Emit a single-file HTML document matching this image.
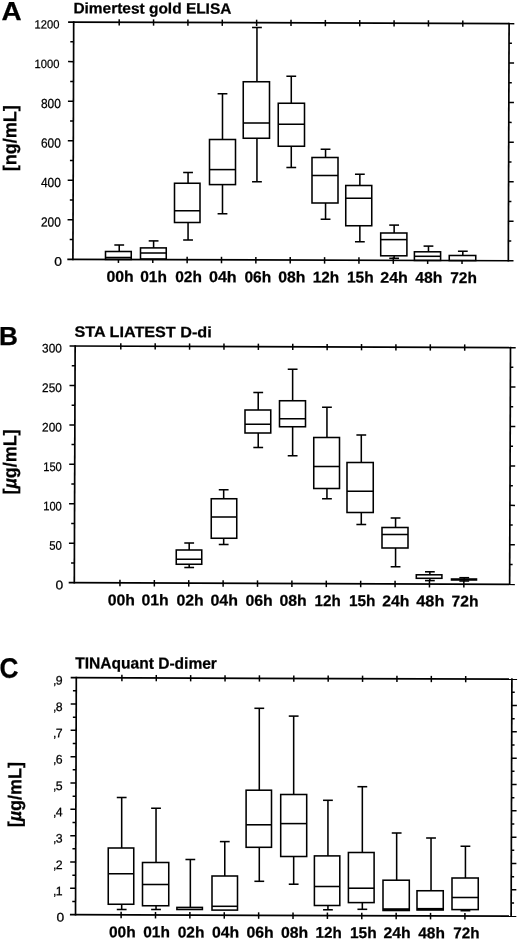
<!DOCTYPE html>
<html><head><meta charset="utf-8"><title>D-dimer box plots</title>
<style>
html,body{margin:0;padding:0;background:#fff;}
svg{display:block;filter:blur(0.35px);}
svg text{font-family:"Liberation Sans",sans-serif;fill:#000;stroke:#000;stroke-width:0.25px;}
svg line,svg rect{stroke:#000;}
</style></head><body>
<svg width="520" height="941" viewBox="0 0 520 941">
<rect x="0" y="0" width="520" height="941" fill="#fff" style="stroke:none"/>
<text x="61.90" y="265.85" font-size="12.4" text-anchor="end" textLength="7.70" lengthAdjust="spacingAndGlyphs" transform="rotate(0.189 61.90 265.85)">0</text>
<line x1="69.68" y1="239.52" x2="72.98" y2="239.53" stroke-width="1.5"/>
<line x1="508.38" y1="240.97" x2="511.28" y2="240.98" stroke-width="1.5"/>
<line x1="67.55" y1="219.75" x2="73.05" y2="219.77" stroke-width="1.5"/>
<line x1="508.45" y1="221.20" x2="513.55" y2="221.22" stroke-width="1.5"/>
<text x="60.80" y="226.62" font-size="13.2" text-anchor="end" textLength="19.90" lengthAdjust="spacingAndGlyphs" transform="rotate(0.189 60.80 226.62)">200</text>
<line x1="69.81" y1="199.99" x2="73.11" y2="200.00" stroke-width="1.5"/>
<line x1="508.51" y1="201.44" x2="511.41" y2="201.45" stroke-width="1.5"/>
<line x1="67.68" y1="180.22" x2="73.18" y2="180.23" stroke-width="1.5"/>
<line x1="508.58" y1="181.67" x2="513.68" y2="181.69" stroke-width="1.5"/>
<text x="60.80" y="187.08" font-size="13.2" text-anchor="end" textLength="19.90" lengthAdjust="spacingAndGlyphs" transform="rotate(0.189 60.80 187.08)">400</text>
<line x1="69.94" y1="160.46" x2="73.24" y2="160.47" stroke-width="1.5"/>
<line x1="508.64" y1="161.90" x2="511.54" y2="161.91" stroke-width="1.5"/>
<line x1="67.81" y1="140.68" x2="73.31" y2="140.70" stroke-width="1.5"/>
<line x1="508.71" y1="142.14" x2="513.81" y2="142.15" stroke-width="1.5"/>
<text x="60.80" y="147.55" font-size="13.2" text-anchor="end" textLength="19.90" lengthAdjust="spacingAndGlyphs" transform="rotate(0.189 60.80 147.55)">600</text>
<line x1="70.07" y1="120.92" x2="73.37" y2="120.93" stroke-width="1.5"/>
<line x1="508.77" y1="122.37" x2="511.67" y2="122.38" stroke-width="1.5"/>
<line x1="67.94" y1="101.15" x2="73.44" y2="101.17" stroke-width="1.5"/>
<line x1="508.84" y1="102.60" x2="513.94" y2="102.62" stroke-width="1.5"/>
<text x="60.80" y="108.02" font-size="13.2" text-anchor="end" textLength="19.90" lengthAdjust="spacingAndGlyphs" transform="rotate(0.189 60.80 108.02)">800</text>
<line x1="70.20" y1="81.39" x2="73.50" y2="81.40" stroke-width="1.5"/>
<line x1="508.90" y1="82.84" x2="511.80" y2="82.85" stroke-width="1.5"/>
<line x1="68.07" y1="61.62" x2="73.57" y2="61.63" stroke-width="1.5"/>
<line x1="508.97" y1="63.07" x2="514.07" y2="63.09" stroke-width="1.5"/>
<text x="59.40" y="68.08" font-size="12" text-anchor="end" textLength="24.80" lengthAdjust="spacingAndGlyphs" transform="rotate(0.189 59.40 68.08)">1000</text>
<line x1="70.33" y1="41.86" x2="73.63" y2="41.87" stroke-width="1.5"/>
<line x1="509.03" y1="43.30" x2="511.93" y2="43.31" stroke-width="1.5"/>
<text x="59.40" y="28.55" font-size="12" text-anchor="end" textLength="24.80" lengthAdjust="spacingAndGlyphs" transform="rotate(0.189 59.40 28.55)">1200</text>
<line x1="119.20" y1="19.25" x2="119.20" y2="25.55" stroke-width="1.5"/>
<line x1="118.42" y1="256.45" x2="118.42" y2="262.95" stroke-width="1.5"/>
<text x="106.50" y="281.75" font-size="15.5" font-weight="bold" textLength="27.20" lengthAdjust="spacingAndGlyphs" transform="rotate(0.189 106.50 281.75)">00h</text>
<line x1="153.56" y1="19.36" x2="153.56" y2="25.66" stroke-width="1.5"/>
<line x1="152.78" y1="256.56" x2="152.78" y2="263.06" stroke-width="1.5"/>
<text x="140.25" y="281.86" font-size="15.5" font-weight="bold" textLength="26.70" lengthAdjust="spacingAndGlyphs" transform="rotate(0.189 140.25 281.86)">01h</text>
<line x1="187.92" y1="19.48" x2="187.92" y2="25.78" stroke-width="1.5"/>
<line x1="187.14" y1="256.68" x2="187.14" y2="263.18" stroke-width="1.5"/>
<text x="175.25" y="281.98" font-size="15.5" font-weight="bold" textLength="26.70" lengthAdjust="spacingAndGlyphs" transform="rotate(0.189 175.25 281.98)">02h</text>
<line x1="222.28" y1="19.59" x2="222.28" y2="25.89" stroke-width="1.5"/>
<line x1="221.50" y1="256.79" x2="221.50" y2="263.29" stroke-width="1.5"/>
<text x="209.00" y="282.09" font-size="15.5" font-weight="bold" textLength="27.70" lengthAdjust="spacingAndGlyphs" transform="rotate(0.189 209.00 282.09)">04h</text>
<line x1="256.64" y1="19.70" x2="256.64" y2="26.00" stroke-width="1.5"/>
<line x1="255.86" y1="256.90" x2="255.86" y2="263.40" stroke-width="1.5"/>
<text x="244.50" y="282.20" font-size="15.5" font-weight="bold" textLength="26.70" lengthAdjust="spacingAndGlyphs" transform="rotate(0.189 244.50 282.20)">06h</text>
<line x1="291.00" y1="19.82" x2="291.00" y2="26.12" stroke-width="1.5"/>
<line x1="290.22" y1="257.02" x2="290.22" y2="263.52" stroke-width="1.5"/>
<text x="278.25" y="282.32" font-size="15.5" font-weight="bold" textLength="27.20" lengthAdjust="spacingAndGlyphs" transform="rotate(0.189 278.25 282.32)">08h</text>
<line x1="325.36" y1="19.93" x2="325.36" y2="26.23" stroke-width="1.5"/>
<line x1="324.58" y1="257.13" x2="324.58" y2="263.63" stroke-width="1.5"/>
<text x="312.75" y="282.43" font-size="15.5" font-weight="bold" textLength="26.45" lengthAdjust="spacingAndGlyphs" transform="rotate(0.189 312.75 282.43)">12h</text>
<line x1="359.72" y1="20.04" x2="359.72" y2="26.34" stroke-width="1.5"/>
<line x1="358.94" y1="257.24" x2="358.94" y2="263.74" stroke-width="1.5"/>
<text x="347.00" y="282.54" font-size="15.5" font-weight="bold" textLength="26.70" lengthAdjust="spacingAndGlyphs" transform="rotate(0.189 347.00 282.54)">15h</text>
<line x1="394.08" y1="20.16" x2="394.08" y2="26.46" stroke-width="1.5"/>
<line x1="393.30" y1="257.36" x2="393.30" y2="263.86" stroke-width="1.5"/>
<text x="380.25" y="282.66" font-size="15.5" font-weight="bold" textLength="27.70" lengthAdjust="spacingAndGlyphs" transform="rotate(0.189 380.25 282.66)">24h</text>
<line x1="428.44" y1="20.27" x2="428.44" y2="26.57" stroke-width="1.5"/>
<line x1="427.66" y1="257.47" x2="427.66" y2="263.97" stroke-width="1.5"/>
<text x="415.25" y="282.77" font-size="15.5" font-weight="bold" textLength="27.20" lengthAdjust="spacingAndGlyphs" transform="rotate(0.189 415.25 282.77)">48h</text>
<line x1="462.80" y1="20.38" x2="462.80" y2="26.68" stroke-width="1.5"/>
<line x1="462.02" y1="257.58" x2="462.02" y2="264.08" stroke-width="1.5"/>
<text x="450.25" y="282.88" font-size="15.5" font-weight="bold" textLength="26.70" lengthAdjust="spacingAndGlyphs" transform="rotate(0.189 450.25 282.88)">72h</text>
<rect x="105.50" y="251.50" width="25.75" height="7.95" fill="#fff" stroke-width="1.55"/>
<line x1="105.50" y1="257.50" x2="131.25" y2="257.50" stroke-width="1.55"/>
<line x1="119.23" y1="245.00" x2="119.23" y2="251.50" stroke-width="1.55"/>
<line x1="114.33" y1="245.00" x2="124.13" y2="245.00" stroke-width="1.55"/>
<rect x="140.50" y="247.90" width="25.75" height="11.10" fill="#fff" stroke-width="1.55"/>
<line x1="140.50" y1="253.00" x2="166.25" y2="253.00" stroke-width="1.55"/>
<line x1="153.60" y1="240.90" x2="153.60" y2="247.90" stroke-width="1.55"/>
<line x1="148.70" y1="240.90" x2="158.50" y2="240.90" stroke-width="1.55"/>
<rect x="174.50" y="183.25" width="25.50" height="39.25" fill="#fff" stroke-width="1.55"/>
<line x1="174.50" y1="210.75" x2="200.00" y2="210.75" stroke-width="1.55"/>
<line x1="188.06" y1="172.50" x2="188.06" y2="183.25" stroke-width="1.55"/>
<line x1="183.16" y1="172.50" x2="192.96" y2="172.50" stroke-width="1.55"/>
<line x1="188.06" y1="222.50" x2="188.06" y2="240.00" stroke-width="1.55"/>
<line x1="183.16" y1="240.00" x2="192.96" y2="240.00" stroke-width="1.55"/>
<rect x="209.50" y="139.50" width="26.00" height="45.10" fill="#fff" stroke-width="1.55"/>
<line x1="209.50" y1="169.60" x2="235.50" y2="169.60" stroke-width="1.55"/>
<line x1="222.49" y1="93.75" x2="222.49" y2="139.50" stroke-width="1.55"/>
<line x1="217.59" y1="93.75" x2="227.39" y2="93.75" stroke-width="1.55"/>
<line x1="222.49" y1="184.60" x2="222.49" y2="213.75" stroke-width="1.55"/>
<line x1="217.59" y1="213.75" x2="227.39" y2="213.75" stroke-width="1.55"/>
<rect x="243.25" y="81.75" width="26.25" height="56.50" fill="#fff" stroke-width="1.55"/>
<line x1="243.25" y1="123.00" x2="269.50" y2="123.00" stroke-width="1.55"/>
<line x1="256.95" y1="27.50" x2="256.95" y2="81.75" stroke-width="1.55"/>
<line x1="252.05" y1="27.50" x2="261.85" y2="27.50" stroke-width="1.55"/>
<line x1="256.95" y1="138.25" x2="256.95" y2="181.75" stroke-width="1.55"/>
<line x1="252.05" y1="181.75" x2="261.85" y2="181.75" stroke-width="1.55"/>
<rect x="278.25" y="103.25" width="26.25" height="43.00" fill="#fff" stroke-width="1.55"/>
<line x1="278.25" y1="124.25" x2="304.50" y2="124.25" stroke-width="1.55"/>
<line x1="291.27" y1="76.25" x2="291.27" y2="103.25" stroke-width="1.55"/>
<line x1="286.37" y1="76.25" x2="296.17" y2="76.25" stroke-width="1.55"/>
<line x1="291.27" y1="146.25" x2="291.27" y2="167.50" stroke-width="1.55"/>
<line x1="286.37" y1="167.50" x2="296.17" y2="167.50" stroke-width="1.55"/>
<rect x="312.00" y="157.50" width="26.00" height="45.50" fill="#fff" stroke-width="1.55"/>
<line x1="312.00" y1="175.50" x2="338.00" y2="175.50" stroke-width="1.55"/>
<line x1="325.55" y1="149.25" x2="325.55" y2="157.50" stroke-width="1.55"/>
<line x1="320.65" y1="149.25" x2="330.45" y2="149.25" stroke-width="1.55"/>
<line x1="325.55" y1="203.00" x2="325.55" y2="219.25" stroke-width="1.55"/>
<line x1="320.65" y1="219.25" x2="330.45" y2="219.25" stroke-width="1.55"/>
<rect x="345.75" y="185.50" width="26.00" height="40.25" fill="#fff" stroke-width="1.55"/>
<line x1="345.75" y1="198.25" x2="371.75" y2="198.25" stroke-width="1.55"/>
<line x1="359.86" y1="174.25" x2="359.86" y2="185.50" stroke-width="1.55"/>
<line x1="354.96" y1="174.25" x2="364.76" y2="174.25" stroke-width="1.55"/>
<line x1="359.86" y1="225.75" x2="359.86" y2="241.75" stroke-width="1.55"/>
<line x1="354.96" y1="241.75" x2="364.76" y2="241.75" stroke-width="1.55"/>
<rect x="380.70" y="233.00" width="26.20" height="22.80" fill="#fff" stroke-width="1.55"/>
<line x1="380.70" y1="239.60" x2="406.90" y2="239.60" stroke-width="1.55"/>
<line x1="394.14" y1="225.10" x2="394.14" y2="233.00" stroke-width="1.55"/>
<line x1="389.24" y1="225.10" x2="399.04" y2="225.10" stroke-width="1.55"/>
<line x1="394.14" y1="255.80" x2="394.14" y2="258.30" stroke-width="1.55"/>
<line x1="389.24" y1="258.30" x2="399.04" y2="258.30" stroke-width="1.55"/>
<rect x="414.40" y="251.80" width="26.20" height="8.67" fill="#fff" stroke-width="1.55"/>
<line x1="414.40" y1="256.30" x2="440.60" y2="256.30" stroke-width="1.55"/>
<line x1="428.47" y1="246.10" x2="428.47" y2="251.80" stroke-width="1.55"/>
<line x1="423.57" y1="246.10" x2="433.37" y2="246.10" stroke-width="1.55"/>
<rect x="449.25" y="255.50" width="26.50" height="5.08" fill="#fff" stroke-width="1.55"/>
<line x1="462.82" y1="251.25" x2="462.82" y2="255.50" stroke-width="1.55"/>
<line x1="457.92" y1="251.25" x2="467.72" y2="251.25" stroke-width="1.55"/>
<line x1="68.10" y1="22.08" x2="514.30" y2="23.55" stroke-width="1.7"/>
<line x1="67.32" y1="259.28" x2="513.52" y2="260.75" stroke-width="1.7"/>
<line x1="73.70" y1="21.25" x2="72.92" y2="260.15" stroke-width="1.7"/>
<line x1="509.10" y1="22.69" x2="508.32" y2="261.59" stroke-width="1.7"/>
<text x="73.40" y="13.20" font-size="15.0" font-weight="bold" textLength="158.00" lengthAdjust="spacingAndGlyphs" transform="rotate(0.189 73.40 13.20)">Dimertest gold ELISA</text>
<text x="1.60" y="20.40" font-size="25.6" font-weight="bold" textLength="20.10" lengthAdjust="spacingAndGlyphs">A</text>
<text x="16.30" y="138.30" font-size="18.6" text-anchor="middle" font-weight="bold" textLength="66.00" lengthAdjust="spacingAndGlyphs" transform="rotate(-89.811 16.30 138.30)">[ng/mL]</text>
<text x="63.20" y="589.35" font-size="12.4" text-anchor="end" textLength="7.70" lengthAdjust="spacingAndGlyphs" transform="rotate(0.206 63.20 589.35)">0</text>
<line x1="71.07" y1="562.96" x2="74.37" y2="562.98" stroke-width="1.5"/>
<line x1="509.72" y1="564.54" x2="512.62" y2="564.55" stroke-width="1.5"/>
<line x1="68.94" y1="543.23" x2="74.44" y2="543.25" stroke-width="1.5"/>
<line x1="509.79" y1="544.82" x2="514.89" y2="544.84" stroke-width="1.5"/>
<text x="61.80" y="549.90" font-size="12.5" text-anchor="end" textLength="12.60" lengthAdjust="spacingAndGlyphs" transform="rotate(0.206 61.80 549.90)">50</text>
<line x1="71.21" y1="523.51" x2="74.51" y2="523.53" stroke-width="1.5"/>
<line x1="509.86" y1="525.09" x2="512.76" y2="525.10" stroke-width="1.5"/>
<line x1="69.08" y1="503.78" x2="74.58" y2="503.80" stroke-width="1.5"/>
<line x1="509.93" y1="505.37" x2="515.03" y2="505.39" stroke-width="1.5"/>
<text x="61.80" y="510.45" font-size="12.5" text-anchor="end" textLength="18.60" lengthAdjust="spacingAndGlyphs" transform="rotate(0.206 61.80 510.45)">100</text>
<line x1="71.35" y1="484.06" x2="74.65" y2="484.08" stroke-width="1.5"/>
<line x1="510.00" y1="485.64" x2="512.90" y2="485.65" stroke-width="1.5"/>
<line x1="69.22" y1="464.33" x2="74.72" y2="464.35" stroke-width="1.5"/>
<line x1="510.07" y1="465.92" x2="515.17" y2="465.94" stroke-width="1.5"/>
<text x="61.80" y="471.00" font-size="12.5" text-anchor="end" textLength="18.60" lengthAdjust="spacingAndGlyphs" transform="rotate(0.206 61.80 471.00)">150</text>
<line x1="71.49" y1="444.61" x2="74.79" y2="444.62" stroke-width="1.5"/>
<line x1="510.14" y1="446.19" x2="513.04" y2="446.20" stroke-width="1.5"/>
<line x1="69.37" y1="424.88" x2="74.87" y2="424.90" stroke-width="1.5"/>
<line x1="510.22" y1="426.47" x2="515.32" y2="426.49" stroke-width="1.5"/>
<text x="61.80" y="431.55" font-size="12.5" text-anchor="end" textLength="19.70" lengthAdjust="spacingAndGlyphs" transform="rotate(0.206 61.80 431.55)">200</text>
<line x1="71.64" y1="405.16" x2="74.94" y2="405.18" stroke-width="1.5"/>
<line x1="510.29" y1="406.74" x2="513.19" y2="406.75" stroke-width="1.5"/>
<line x1="69.51" y1="385.43" x2="75.01" y2="385.45" stroke-width="1.5"/>
<line x1="510.36" y1="387.02" x2="515.46" y2="387.04" stroke-width="1.5"/>
<text x="61.80" y="392.10" font-size="12.5" text-anchor="end" textLength="19.70" lengthAdjust="spacingAndGlyphs" transform="rotate(0.206 61.80 392.10)">250</text>
<line x1="71.78" y1="365.71" x2="75.08" y2="365.73" stroke-width="1.5"/>
<line x1="510.43" y1="367.29" x2="513.33" y2="367.30" stroke-width="1.5"/>
<text x="61.80" y="352.65" font-size="12.5" text-anchor="end" textLength="19.70" lengthAdjust="spacingAndGlyphs" transform="rotate(0.206 61.80 352.65)">300</text>
<line x1="120.80" y1="343.16" x2="120.80" y2="349.46" stroke-width="1.5"/>
<line x1="119.95" y1="579.86" x2="119.95" y2="586.36" stroke-width="1.5"/>
<text x="107.75" y="605.16" font-size="15.5" font-weight="bold" textLength="27.20" lengthAdjust="spacingAndGlyphs" transform="rotate(0.206 107.75 605.16)">00h</text>
<line x1="155.19" y1="343.29" x2="155.19" y2="349.59" stroke-width="1.5"/>
<line x1="154.34" y1="579.99" x2="154.34" y2="586.49" stroke-width="1.5"/>
<text x="141.50" y="605.29" font-size="15.5" font-weight="bold" textLength="27.20" lengthAdjust="spacingAndGlyphs" transform="rotate(0.206 141.50 605.29)">01h</text>
<line x1="189.58" y1="343.41" x2="189.58" y2="349.71" stroke-width="1.5"/>
<line x1="188.73" y1="580.11" x2="188.73" y2="586.61" stroke-width="1.5"/>
<text x="176.50" y="605.41" font-size="15.5" font-weight="bold" textLength="27.20" lengthAdjust="spacingAndGlyphs" transform="rotate(0.206 176.50 605.41)">02h</text>
<line x1="223.97" y1="343.54" x2="223.97" y2="349.84" stroke-width="1.5"/>
<line x1="223.12" y1="580.24" x2="223.12" y2="586.74" stroke-width="1.5"/>
<text x="210.50" y="605.54" font-size="15.5" font-weight="bold" textLength="27.45" lengthAdjust="spacingAndGlyphs" transform="rotate(0.206 210.50 605.54)">04h</text>
<line x1="258.36" y1="343.66" x2="258.36" y2="349.96" stroke-width="1.5"/>
<line x1="257.51" y1="580.36" x2="257.51" y2="586.86" stroke-width="1.5"/>
<text x="245.50" y="605.66" font-size="15.5" font-weight="bold" textLength="27.20" lengthAdjust="spacingAndGlyphs" transform="rotate(0.206 245.50 605.66)">06h</text>
<line x1="292.75" y1="343.78" x2="292.75" y2="350.08" stroke-width="1.5"/>
<line x1="291.90" y1="580.48" x2="291.90" y2="586.98" stroke-width="1.5"/>
<text x="279.50" y="605.78" font-size="15.5" font-weight="bold" textLength="27.20" lengthAdjust="spacingAndGlyphs" transform="rotate(0.206 279.50 605.78)">08h</text>
<line x1="327.14" y1="343.91" x2="327.14" y2="350.21" stroke-width="1.5"/>
<line x1="326.29" y1="580.61" x2="326.29" y2="587.11" stroke-width="1.5"/>
<text x="314.50" y="605.91" font-size="15.5" font-weight="bold" textLength="26.20" lengthAdjust="spacingAndGlyphs" transform="rotate(0.206 314.50 605.91)">12h</text>
<line x1="361.53" y1="344.03" x2="361.53" y2="350.33" stroke-width="1.5"/>
<line x1="360.68" y1="580.73" x2="360.68" y2="587.23" stroke-width="1.5"/>
<text x="349.00" y="606.03" font-size="15.5" font-weight="bold" textLength="26.45" lengthAdjust="spacingAndGlyphs" transform="rotate(0.206 349.00 606.03)">15h</text>
<line x1="395.92" y1="344.15" x2="395.92" y2="350.45" stroke-width="1.5"/>
<line x1="395.07" y1="580.85" x2="395.07" y2="587.35" stroke-width="1.5"/>
<text x="382.25" y="606.15" font-size="15.5" font-weight="bold" textLength="27.20" lengthAdjust="spacingAndGlyphs" transform="rotate(0.206 382.25 606.15)">24h</text>
<line x1="430.31" y1="344.28" x2="430.31" y2="350.58" stroke-width="1.5"/>
<line x1="429.46" y1="580.98" x2="429.46" y2="587.48" stroke-width="1.5"/>
<text x="416.30" y="606.28" font-size="15.5" font-weight="bold" textLength="28.10" lengthAdjust="spacingAndGlyphs" transform="rotate(0.206 416.30 606.28)">48h</text>
<line x1="464.70" y1="344.40" x2="464.70" y2="350.70" stroke-width="1.5"/>
<line x1="463.85" y1="581.10" x2="463.85" y2="587.60" stroke-width="1.5"/>
<text x="451.60" y="606.40" font-size="15.5" font-weight="bold" textLength="26.90" lengthAdjust="spacingAndGlyphs" transform="rotate(0.206 451.60 606.40)">72h</text>
<rect x="176.25" y="550.00" width="25.50" height="14.25" fill="#fff" stroke-width="1.55"/>
<line x1="176.25" y1="559.25" x2="201.75" y2="559.25" stroke-width="1.55"/>
<line x1="189.19" y1="543.00" x2="189.19" y2="550.00" stroke-width="1.55"/>
<line x1="184.29" y1="543.00" x2="194.09" y2="543.00" stroke-width="1.55"/>
<line x1="189.19" y1="564.25" x2="189.19" y2="567.50" stroke-width="1.55"/>
<line x1="184.29" y1="567.50" x2="194.09" y2="567.50" stroke-width="1.55"/>
<rect x="211.25" y="498.75" width="25.50" height="39.50" fill="#fff" stroke-width="1.55"/>
<line x1="211.25" y1="517.00" x2="236.75" y2="517.00" stroke-width="1.55"/>
<line x1="223.67" y1="489.75" x2="223.67" y2="498.75" stroke-width="1.55"/>
<line x1="218.77" y1="489.75" x2="228.57" y2="489.75" stroke-width="1.55"/>
<line x1="223.67" y1="538.25" x2="223.67" y2="544.50" stroke-width="1.55"/>
<line x1="218.77" y1="544.50" x2="228.57" y2="544.50" stroke-width="1.55"/>
<rect x="245.00" y="410.00" width="25.75" height="23.00" fill="#fff" stroke-width="1.55"/>
<line x1="245.00" y1="424.25" x2="270.75" y2="424.25" stroke-width="1.55"/>
<line x1="258.22" y1="392.50" x2="258.22" y2="410.00" stroke-width="1.55"/>
<line x1="253.32" y1="392.50" x2="263.12" y2="392.50" stroke-width="1.55"/>
<line x1="258.22" y1="433.00" x2="258.22" y2="447.50" stroke-width="1.55"/>
<line x1="253.32" y1="447.50" x2="263.12" y2="447.50" stroke-width="1.55"/>
<rect x="279.50" y="400.75" width="26.00" height="26.00" fill="#fff" stroke-width="1.55"/>
<line x1="279.50" y1="418.75" x2="305.50" y2="418.75" stroke-width="1.55"/>
<line x1="292.63" y1="369.25" x2="292.63" y2="400.75" stroke-width="1.55"/>
<line x1="287.73" y1="369.25" x2="297.53" y2="369.25" stroke-width="1.55"/>
<line x1="292.63" y1="426.75" x2="292.63" y2="455.75" stroke-width="1.55"/>
<line x1="287.73" y1="455.75" x2="297.53" y2="455.75" stroke-width="1.55"/>
<rect x="313.75" y="437.50" width="25.75" height="51.00" fill="#fff" stroke-width="1.55"/>
<line x1="313.75" y1="466.50" x2="339.50" y2="466.50" stroke-width="1.55"/>
<line x1="326.95" y1="407.25" x2="326.95" y2="437.50" stroke-width="1.55"/>
<line x1="322.05" y1="407.25" x2="331.85" y2="407.25" stroke-width="1.55"/>
<line x1="326.95" y1="488.50" x2="326.95" y2="498.75" stroke-width="1.55"/>
<line x1="322.05" y1="498.75" x2="331.85" y2="498.75" stroke-width="1.55"/>
<rect x="347.00" y="462.50" width="26.25" height="50.00" fill="#fff" stroke-width="1.55"/>
<line x1="347.00" y1="491.25" x2="373.25" y2="491.25" stroke-width="1.55"/>
<line x1="361.29" y1="435.00" x2="361.29" y2="462.50" stroke-width="1.55"/>
<line x1="356.39" y1="435.00" x2="366.19" y2="435.00" stroke-width="1.55"/>
<line x1="361.29" y1="512.50" x2="361.29" y2="524.50" stroke-width="1.55"/>
<line x1="356.39" y1="524.50" x2="366.19" y2="524.50" stroke-width="1.55"/>
<rect x="382.00" y="527.50" width="26.00" height="20.50" fill="#fff" stroke-width="1.55"/>
<line x1="382.00" y1="534.50" x2="408.00" y2="534.50" stroke-width="1.55"/>
<line x1="395.57" y1="518.00" x2="395.57" y2="527.50" stroke-width="1.55"/>
<line x1="390.67" y1="518.00" x2="400.47" y2="518.00" stroke-width="1.55"/>
<line x1="395.57" y1="548.00" x2="395.57" y2="566.75" stroke-width="1.55"/>
<line x1="390.67" y1="566.75" x2="400.47" y2="566.75" stroke-width="1.55"/>
<rect x="416.30" y="574.80" width="25.60" height="3.50" fill="#fff" stroke-width="1.55"/>
<line x1="429.87" y1="571.80" x2="429.87" y2="574.80" stroke-width="1.55"/>
<line x1="424.97" y1="571.80" x2="434.77" y2="571.80" stroke-width="1.55"/>
<line x1="429.87" y1="578.30" x2="429.87" y2="580.60" stroke-width="1.55"/>
<line x1="424.97" y1="580.60" x2="434.77" y2="580.60" stroke-width="1.55"/>
<rect x="451.50" y="579.00" width="25.00" height="1.00" fill="#fff" stroke-width="1.55"/>
<line x1="464.25" y1="577.70" x2="464.25" y2="579.00" stroke-width="1.55"/>
<line x1="459.35" y1="577.70" x2="469.15" y2="577.70" stroke-width="1.55"/>
<line x1="464.25" y1="580.00" x2="464.25" y2="581.00" stroke-width="1.55"/>
<line x1="459.35" y1="581.00" x2="469.15" y2="581.00" stroke-width="1.55"/>
<line x1="69.55" y1="345.98" x2="515.70" y2="347.59" stroke-width="1.7"/>
<line x1="68.70" y1="582.68" x2="514.85" y2="584.29" stroke-width="1.7"/>
<line x1="75.15" y1="345.15" x2="74.30" y2="583.55" stroke-width="1.7"/>
<line x1="510.50" y1="346.72" x2="509.65" y2="585.12" stroke-width="1.7"/>
<text x="74.50" y="336.80" font-size="15.0" font-weight="bold" textLength="137.20" lengthAdjust="spacingAndGlyphs" transform="rotate(0.206 74.50 336.80)">STA LIATEST D-di</text>
<text x="-0.90" y="344.70" font-size="26.2" font-weight="bold">B</text>
<text x="16.30" y="462.00" font-size="18.6" text-anchor="middle" font-weight="bold" textLength="65.20" lengthAdjust="spacingAndGlyphs" transform="rotate(-89.794 16.30 462.00)">[<tspan font-style="italic">µ</tspan>g/mL]</text>
<text x="64.30" y="921.65" font-size="12.4" text-anchor="end" textLength="7.70" lengthAdjust="spacingAndGlyphs" transform="rotate(0.189 64.30 921.65)">0</text>
<line x1="72.26" y1="901.52" x2="75.56" y2="901.53" stroke-width="1.5"/>
<line x1="511.16" y1="902.97" x2="514.06" y2="902.98" stroke-width="1.5"/>
<line x1="70.10" y1="888.35" x2="75.60" y2="888.37" stroke-width="1.5"/>
<line x1="511.20" y1="889.80" x2="516.30" y2="889.82" stroke-width="1.5"/>
<text x="62.60" y="895.32" font-size="12.3" text-anchor="end" transform="rotate(0.189 62.60 895.32)">,<tspan dx="-0.7">1</tspan></text>
<line x1="72.35" y1="875.19" x2="75.65" y2="875.20" stroke-width="1.5"/>
<line x1="511.25" y1="876.64" x2="514.15" y2="876.65" stroke-width="1.5"/>
<line x1="70.19" y1="862.02" x2="75.69" y2="862.03" stroke-width="1.5"/>
<line x1="511.29" y1="863.47" x2="516.39" y2="863.49" stroke-width="1.5"/>
<text x="62.60" y="868.98" font-size="12.3" text-anchor="end" transform="rotate(0.189 62.60 868.98)">,<tspan dx="-0.7">2</tspan></text>
<line x1="72.44" y1="848.86" x2="75.74" y2="848.87" stroke-width="1.5"/>
<line x1="511.34" y1="850.30" x2="514.24" y2="850.32" stroke-width="1.5"/>
<line x1="70.28" y1="835.68" x2="75.78" y2="835.70" stroke-width="1.5"/>
<line x1="511.38" y1="837.14" x2="516.48" y2="837.16" stroke-width="1.5"/>
<text x="62.60" y="842.65" font-size="12.3" text-anchor="end" transform="rotate(0.189 62.60 842.65)">,<tspan dx="-0.7">3</tspan></text>
<line x1="72.52" y1="822.52" x2="75.82" y2="822.53" stroke-width="1.5"/>
<line x1="511.42" y1="823.97" x2="514.32" y2="823.98" stroke-width="1.5"/>
<line x1="70.37" y1="809.35" x2="75.87" y2="809.37" stroke-width="1.5"/>
<line x1="511.47" y1="810.80" x2="516.57" y2="810.82" stroke-width="1.5"/>
<text x="62.60" y="816.32" font-size="12.3" text-anchor="end" transform="rotate(0.189 62.60 816.32)">,<tspan dx="-0.7">4</tspan></text>
<line x1="72.61" y1="796.19" x2="75.91" y2="796.20" stroke-width="1.5"/>
<line x1="511.51" y1="797.64" x2="514.41" y2="797.65" stroke-width="1.5"/>
<line x1="70.45" y1="783.02" x2="75.95" y2="783.03" stroke-width="1.5"/>
<line x1="511.55" y1="784.47" x2="516.65" y2="784.49" stroke-width="1.5"/>
<text x="62.60" y="789.98" font-size="12.3" text-anchor="end" transform="rotate(0.189 62.60 789.98)">,<tspan dx="-0.7">5</tspan></text>
<line x1="72.70" y1="769.86" x2="76.00" y2="769.87" stroke-width="1.5"/>
<line x1="511.60" y1="771.30" x2="514.50" y2="771.32" stroke-width="1.5"/>
<line x1="70.54" y1="756.68" x2="76.04" y2="756.70" stroke-width="1.5"/>
<line x1="511.64" y1="758.14" x2="516.74" y2="758.16" stroke-width="1.5"/>
<text x="62.60" y="763.65" font-size="12.3" text-anchor="end" transform="rotate(0.189 62.60 763.65)">,<tspan dx="-0.7">6</tspan></text>
<line x1="72.78" y1="743.52" x2="76.08" y2="743.53" stroke-width="1.5"/>
<line x1="511.68" y1="744.97" x2="514.58" y2="744.98" stroke-width="1.5"/>
<line x1="70.63" y1="730.35" x2="76.13" y2="730.37" stroke-width="1.5"/>
<line x1="511.73" y1="731.80" x2="516.83" y2="731.82" stroke-width="1.5"/>
<text x="62.60" y="737.32" font-size="12.3" text-anchor="end" transform="rotate(0.189 62.60 737.32)">,<tspan dx="-0.7">7</tspan></text>
<line x1="72.87" y1="717.19" x2="76.17" y2="717.20" stroke-width="1.5"/>
<line x1="511.77" y1="718.64" x2="514.67" y2="718.65" stroke-width="1.5"/>
<line x1="70.71" y1="704.02" x2="76.21" y2="704.03" stroke-width="1.5"/>
<line x1="511.81" y1="705.47" x2="516.91" y2="705.49" stroke-width="1.5"/>
<text x="62.60" y="710.98" font-size="12.3" text-anchor="end" transform="rotate(0.189 62.60 710.98)">,<tspan dx="-0.7">8</tspan></text>
<line x1="72.96" y1="690.86" x2="76.26" y2="690.87" stroke-width="1.5"/>
<line x1="511.86" y1="692.30" x2="514.76" y2="692.32" stroke-width="1.5"/>
<text x="62.60" y="684.65" font-size="12.3" text-anchor="end" transform="rotate(0.189 62.60 684.65)">,<tspan dx="-0.7">9</tspan></text>
<line x1="121.90" y1="674.85" x2="121.90" y2="681.15" stroke-width="1.5"/>
<line x1="121.12" y1="911.85" x2="121.12" y2="918.35" stroke-width="1.5"/>
<text x="109.00" y="937.15" font-size="15.5" font-weight="bold" textLength="26.70" lengthAdjust="spacingAndGlyphs" transform="rotate(0.189 109.00 937.15)">00h</text>
<line x1="156.28" y1="674.96" x2="156.28" y2="681.26" stroke-width="1.5"/>
<line x1="155.50" y1="911.96" x2="155.50" y2="918.46" stroke-width="1.5"/>
<text x="143.25" y="937.26" font-size="15.5" font-weight="bold" textLength="26.70" lengthAdjust="spacingAndGlyphs" transform="rotate(0.189 143.25 937.26)">01h</text>
<line x1="190.66" y1="675.08" x2="190.66" y2="681.38" stroke-width="1.5"/>
<line x1="189.88" y1="912.08" x2="189.88" y2="918.58" stroke-width="1.5"/>
<text x="177.75" y="937.38" font-size="15.5" font-weight="bold" textLength="26.70" lengthAdjust="spacingAndGlyphs" transform="rotate(0.189 177.75 937.38)">02h</text>
<line x1="225.04" y1="675.19" x2="225.04" y2="681.49" stroke-width="1.5"/>
<line x1="224.26" y1="912.19" x2="224.26" y2="918.69" stroke-width="1.5"/>
<text x="212.00" y="937.49" font-size="15.5" font-weight="bold" textLength="27.20" lengthAdjust="spacingAndGlyphs" transform="rotate(0.189 212.00 937.49)">04h</text>
<line x1="259.42" y1="675.30" x2="259.42" y2="681.60" stroke-width="1.5"/>
<line x1="258.64" y1="912.30" x2="258.64" y2="918.80" stroke-width="1.5"/>
<text x="246.50" y="937.60" font-size="15.5" font-weight="bold" textLength="27.20" lengthAdjust="spacingAndGlyphs" transform="rotate(0.189 246.50 937.60)">06h</text>
<line x1="293.80" y1="675.42" x2="293.80" y2="681.72" stroke-width="1.5"/>
<line x1="293.02" y1="912.42" x2="293.02" y2="918.92" stroke-width="1.5"/>
<text x="281.00" y="937.72" font-size="15.5" font-weight="bold" textLength="27.20" lengthAdjust="spacingAndGlyphs" transform="rotate(0.189 281.00 937.72)">08h</text>
<line x1="328.18" y1="675.53" x2="328.18" y2="681.83" stroke-width="1.5"/>
<line x1="327.40" y1="912.53" x2="327.40" y2="919.03" stroke-width="1.5"/>
<text x="315.50" y="937.83" font-size="15.5" font-weight="bold" textLength="26.20" lengthAdjust="spacingAndGlyphs" transform="rotate(0.189 315.50 937.83)">12h</text>
<line x1="362.56" y1="675.64" x2="362.56" y2="681.94" stroke-width="1.5"/>
<line x1="361.78" y1="912.64" x2="361.78" y2="919.14" stroke-width="1.5"/>
<text x="350.00" y="937.94" font-size="15.5" font-weight="bold" textLength="26.70" lengthAdjust="spacingAndGlyphs" transform="rotate(0.189 350.00 937.94)">15h</text>
<line x1="396.94" y1="675.76" x2="396.94" y2="682.06" stroke-width="1.5"/>
<line x1="396.16" y1="912.76" x2="396.16" y2="919.26" stroke-width="1.5"/>
<text x="383.50" y="938.06" font-size="15.5" font-weight="bold" textLength="27.20" lengthAdjust="spacingAndGlyphs" transform="rotate(0.189 383.50 938.06)">24h</text>
<line x1="431.32" y1="675.87" x2="431.32" y2="682.17" stroke-width="1.5"/>
<line x1="430.54" y1="912.87" x2="430.54" y2="919.37" stroke-width="1.5"/>
<text x="418.25" y="938.17" font-size="15.5" font-weight="bold" textLength="26.70" lengthAdjust="spacingAndGlyphs" transform="rotate(0.189 418.25 938.17)">48h</text>
<line x1="465.70" y1="675.99" x2="465.70" y2="682.29" stroke-width="1.5"/>
<line x1="464.92" y1="912.99" x2="464.92" y2="919.49" stroke-width="1.5"/>
<text x="453.25" y="938.29" font-size="15.5" font-weight="bold" textLength="26.20" lengthAdjust="spacingAndGlyphs" transform="rotate(0.189 453.25 938.29)">72h</text>
<rect x="108.25" y="848.00" width="25.50" height="56.25" fill="#fff" stroke-width="1.55"/>
<line x1="108.25" y1="873.75" x2="133.75" y2="873.75" stroke-width="1.55"/>
<line x1="121.68" y1="797.50" x2="121.68" y2="848.00" stroke-width="1.55"/>
<line x1="116.78" y1="797.50" x2="126.58" y2="797.50" stroke-width="1.55"/>
<line x1="121.68" y1="904.25" x2="121.68" y2="909.50" stroke-width="1.55"/>
<line x1="116.78" y1="909.50" x2="126.58" y2="909.50" stroke-width="1.55"/>
<rect x="142.50" y="862.50" width="26.25" height="43.25" fill="#fff" stroke-width="1.55"/>
<line x1="142.50" y1="884.50" x2="168.75" y2="884.50" stroke-width="1.55"/>
<line x1="156.03" y1="808.25" x2="156.03" y2="862.50" stroke-width="1.55"/>
<line x1="151.13" y1="808.25" x2="160.93" y2="808.25" stroke-width="1.55"/>
<line x1="156.03" y1="905.75" x2="156.03" y2="909.50" stroke-width="1.55"/>
<line x1="151.13" y1="909.50" x2="160.93" y2="909.50" stroke-width="1.55"/>
<rect x="176.90" y="907.40" width="25.50" height="2.10" fill="#fff" stroke-width="1.55"/>
<line x1="190.34" y1="859.50" x2="190.34" y2="907.40" stroke-width="1.55"/>
<line x1="185.44" y1="859.50" x2="195.24" y2="859.50" stroke-width="1.55"/>
<rect x="212.00" y="876.00" width="25.50" height="34.10" fill="#fff" stroke-width="1.55"/>
<line x1="212.00" y1="906.30" x2="237.50" y2="906.30" stroke-width="1.55"/>
<line x1="224.77" y1="841.60" x2="224.77" y2="876.00" stroke-width="1.55"/>
<line x1="219.87" y1="841.60" x2="229.67" y2="841.60" stroke-width="1.55"/>
<rect x="246.10" y="790.20" width="25.40" height="57.10" fill="#fff" stroke-width="1.55"/>
<line x1="246.10" y1="824.80" x2="271.50" y2="824.80" stroke-width="1.55"/>
<line x1="259.29" y1="708.30" x2="259.29" y2="790.20" stroke-width="1.55"/>
<line x1="254.39" y1="708.30" x2="264.19" y2="708.30" stroke-width="1.55"/>
<line x1="259.29" y1="847.30" x2="259.29" y2="881.30" stroke-width="1.55"/>
<line x1="254.39" y1="881.30" x2="264.19" y2="881.30" stroke-width="1.55"/>
<rect x="280.70" y="794.50" width="26.00" height="62.00" fill="#fff" stroke-width="1.55"/>
<line x1="280.70" y1="823.60" x2="306.70" y2="823.60" stroke-width="1.55"/>
<line x1="293.67" y1="716.10" x2="293.67" y2="794.50" stroke-width="1.55"/>
<line x1="288.77" y1="716.10" x2="298.57" y2="716.10" stroke-width="1.55"/>
<line x1="293.67" y1="856.50" x2="293.67" y2="884.20" stroke-width="1.55"/>
<line x1="288.77" y1="884.20" x2="298.57" y2="884.20" stroke-width="1.55"/>
<rect x="314.40" y="855.90" width="25.40" height="49.60" fill="#fff" stroke-width="1.55"/>
<line x1="314.40" y1="886.50" x2="339.80" y2="886.50" stroke-width="1.55"/>
<line x1="327.94" y1="800.30" x2="327.94" y2="855.90" stroke-width="1.55"/>
<line x1="323.04" y1="800.30" x2="332.84" y2="800.30" stroke-width="1.55"/>
<line x1="327.94" y1="905.50" x2="327.94" y2="909.80" stroke-width="1.55"/>
<line x1="323.04" y1="909.80" x2="332.84" y2="909.80" stroke-width="1.55"/>
<rect x="348.40" y="852.50" width="25.70" height="50.10" fill="#fff" stroke-width="1.55"/>
<line x1="348.40" y1="888.20" x2="374.10" y2="888.20" stroke-width="1.55"/>
<line x1="362.33" y1="786.70" x2="362.33" y2="852.50" stroke-width="1.55"/>
<line x1="357.43" y1="786.70" x2="367.23" y2="786.70" stroke-width="1.55"/>
<line x1="362.33" y1="902.60" x2="362.33" y2="909.30" stroke-width="1.55"/>
<line x1="357.43" y1="909.30" x2="367.23" y2="909.30" stroke-width="1.55"/>
<rect x="383.00" y="880.20" width="26.30" height="30.30" fill="#fff" stroke-width="1.55"/>
<line x1="383.00" y1="909.30" x2="409.30" y2="909.30" stroke-width="2.2"/>
<line x1="396.66" y1="833.00" x2="396.66" y2="880.20" stroke-width="1.55"/>
<line x1="391.76" y1="833.00" x2="401.56" y2="833.00" stroke-width="1.55"/>
<rect x="417.00" y="890.75" width="26.25" height="19.25" fill="#fff" stroke-width="1.55"/>
<line x1="417.00" y1="909.00" x2="443.25" y2="909.00" stroke-width="2.2"/>
<line x1="431.03" y1="838.00" x2="431.03" y2="890.75" stroke-width="1.55"/>
<line x1="426.13" y1="838.00" x2="435.93" y2="838.00" stroke-width="1.55"/>
<rect x="452.00" y="878.00" width="26.25" height="31.60" fill="#fff" stroke-width="1.55"/>
<line x1="452.00" y1="897.50" x2="478.25" y2="897.50" stroke-width="1.55"/>
<line x1="465.43" y1="846.25" x2="465.43" y2="878.00" stroke-width="1.55"/>
<line x1="460.53" y1="846.25" x2="470.33" y2="846.25" stroke-width="1.55"/>
<line x1="465.43" y1="909.60" x2="465.43" y2="910.70" stroke-width="1.55"/>
<line x1="460.53" y1="910.70" x2="470.33" y2="910.70" stroke-width="1.55"/>
<line x1="70.70" y1="677.68" x2="517.10" y2="679.15" stroke-width="1.7"/>
<line x1="69.92" y1="914.68" x2="516.32" y2="916.15" stroke-width="1.7"/>
<line x1="76.30" y1="676.85" x2="75.52" y2="915.55" stroke-width="1.7"/>
<line x1="511.90" y1="678.29" x2="511.12" y2="916.99" stroke-width="1.7"/>
<text x="75.30" y="668.40" font-size="16.0" font-weight="bold" textLength="141.60" lengthAdjust="spacingAndGlyphs" transform="rotate(0.189 75.30 668.40)">TINAquant D-dimer</text>
<text x="-0.50" y="678.00" font-size="29" font-weight="bold" textLength="18.95" lengthAdjust="spacingAndGlyphs">C</text>
<text x="21.20" y="794.70" font-size="18.6" text-anchor="middle" font-weight="bold" textLength="65.20" lengthAdjust="spacingAndGlyphs" transform="rotate(-89.811 21.20 794.70)">[<tspan font-style="italic">µ</tspan>g/mL]</text>
</svg>
</body></html>
